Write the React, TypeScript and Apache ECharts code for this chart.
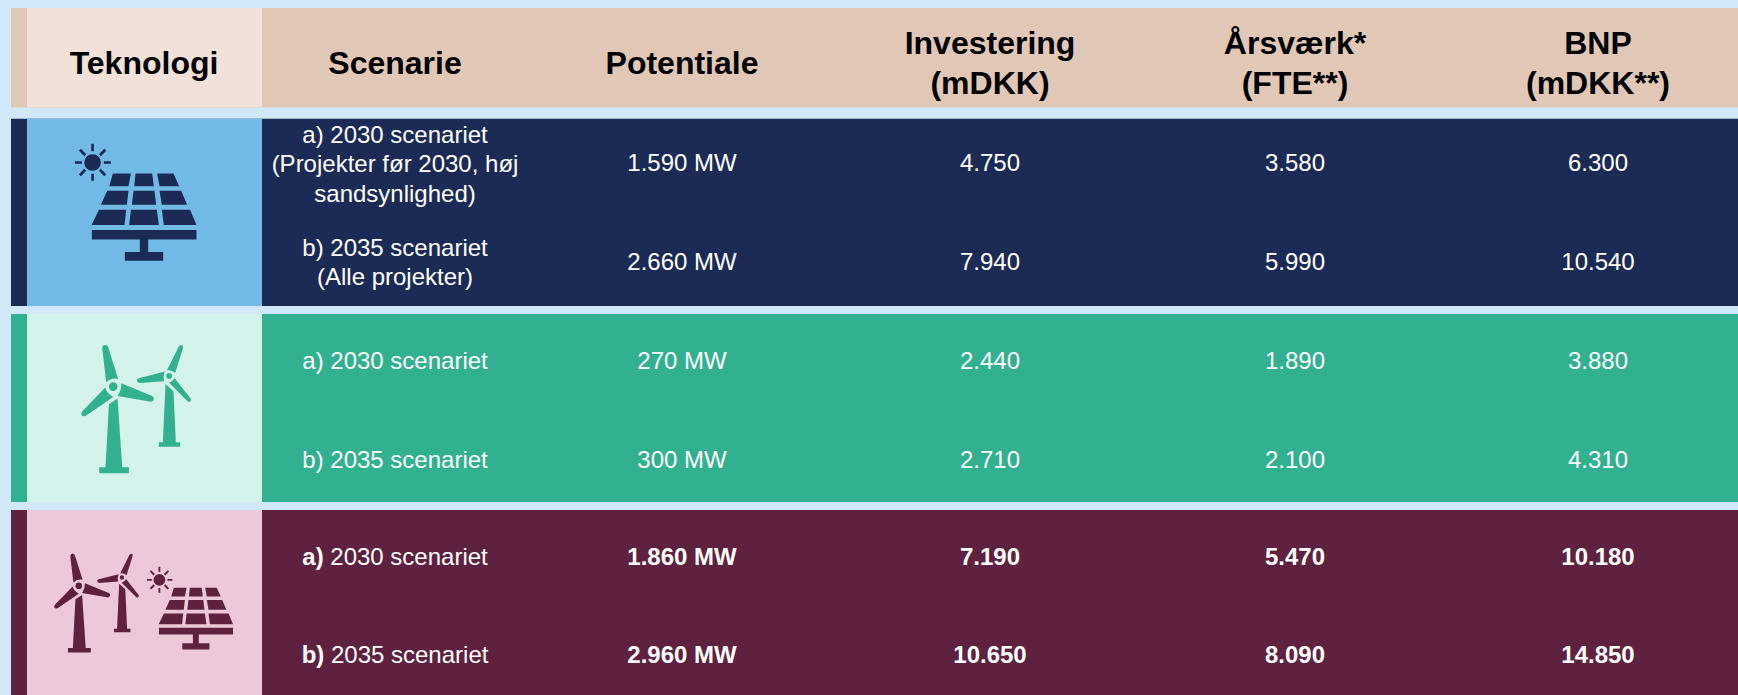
import React, { useEffect, useRef } from "react";
import * as echarts from "echarts";

// Table content
const headers = ["Teknologi", "Scenarie", "Potentiale", "Investering\n(mDKK)", "Årsværk*\n(FTE**)", "BNP\n(mDKK**)"];
const scenariosSolar = ["a) 2030 scenariet\n(Projekter før 2030, høj\nsandsynlighed)", "b) 2035 scenariet\n(Alle projekter)"];
const scenariosWind = ["a) 2030 scenariet", "b) 2035 scenariet"];
const scenariosCombined = ["a)|2030 scenariet", "b)|2035 scenariet"];
const potentialSolar = ["1.590 MW", "2.660 MW"];
const potentialWind = ["270 MW", "300 MW"];
const potentialCombined = ["1.860 MW", "2.960 MW"];
const investmentSolar = ["4.750", "7.940"];
const investmentWind = ["2.440", "2.710"];
const investmentCombined = ["7.190", "10.650"];
const fteSolar = ["3.580", "5.990"];
const fteWind = ["1.890", "2.100"];
const fteCombined = ["5.470", "8.090"];
const gdpSolar = ["6.300", "10.540"];
const gdpWind = ["3.880", "4.310"];
const gdpCombined = ["10.180", "14.850"];

// Layout
const W = 1738;
const H = 695;
const columnCentres = [144, 395, 682, 990, 1295, 1598];
const stripX = 11;
const techX = 27;
const techW = 235;
const FONT = '"Liberation Sans", Arial, sans-serif';

const disc = (cx: number, cy: number, r: number) =>
  `M${cx + r},${cy} A${r},${r} 0 1 1 ${cx - r},${cy} A${r},${r} 0 1 1 ${cx + r},${cy} Z`;

// Solar panel with a sun above its left corner
const SOLAR_PATH = [
  "M339,521 L393,521 L386,559 L328,559 Z",
  "M407,521 L457,521 L462,559 L403,559 Z",
  "M472,521 L521,521 L538,559 L479,559 Z",
  "M322,573 L386,573 L381,615 L303,615 Z",
  "M401,573 L464,573 L469,615 L396,615 Z",
  "M479,573 L544,573 L562,615 L486,615 Z",
  "M297,630 L379,630 L374,676 L275,676 Z",
  "M393,630 L471,630 L477,676 L388,676 Z",
  "M486,630 L571,630 L590,676 L492,676 Z",
  "M276,691 L590,691 L590,719 L445,719 L445,757 L490,757 L490,783 L375,783 L375,757 L420,757 L420,719 L276,719 Z",
  disc(278, 488, 25),
  "M274,432 L282,432 L282,454 L274,454 Z",
  "M274,522 L282,522 L282,543 L274,543 Z",
  "M225,484 L246,484 L246,492 L225,492 Z",
  "M312,484 L333,484 L333,492 L312,492 Z",
  "M237,453 L243,447 L259,463 L253,469 Z",
  "M313,447 L319,453 L303,469 L297,463 Z",
  "M243,529 L237,523 L253,507 L259,513 Z",
  "M319,523 L313,529 L297,513 L303,507 Z",
].join(" ");

// Pair of wind turbines
const TURBINE_PATH = [
  // large turbine
  disc(340, 260, 13),
  "M307,145 Q307,135 316,135 Q324,135 326,145 L355,237 Q335,232 319,247 Z",
  "M364,250 L457,288 Q464,292 461,300 Q458,307 449,305 L353,288 Q365,270 364,250 Z",
  "M316,263 Q321,281 340,291 L259,347 Q250,352 245,345 Q242,339 248,333 Z",
  "M327,313 L353,296 L367,502 L387,502 L387,520 L298,520 L298,502 L317,502 Z",
  // small turbine
  disc(508, 228, 8.5),
  "M537,140 Q543,134 548,137 Q551,141 549,146 L526,219 Q515,209 501,212 Z",
  "M495,215 Q489,231 493,244 L420,249 Q412,249 411,242 Q411,237 417,235 Z",
  "M524,234 Q519,245 507,248 L563,304 Q568,308 572,304 Q576,299 572,295 Z",
  "M497,252 L521,274 L528,427 L541,427 L541,441 L477,441 L477,427 L489,427 Z",
].join(" ");

echarts.graphic.registerShape("solarIcon", echarts.graphic.extendPath(SOLAR_PATH, {}));
echarts.graphic.registerShape("turbineIcon", echarts.graphic.extendPath(TURBINE_PATH, {}));

const rect = (x: number, y: number, width: number, height: number, fill: string) => ({
  type: "rect",
  shape: { x, y, width, height },
  style: { fill },
  silent: true,
});

const label = (text: string, x: number, y: number, fill: string, size: number, bold: boolean, lineHeight: number) => ({
  type: "text",
  x,
  y,
  silent: true,
  style: {
    text,
    fill,
    font: `${bold ? "bold " : ""}${size}px ${FONT}`,
    align: "center",
    verticalAlign: "middle",
    lineHeight,
  },
});

// "a)" in bold followed by the regular scenario name
const mixedLabel = (text: string, x: number, y: number, fill: string, size: number) => {
  const [lead, rest] = text.split("|");
  return {
    type: "text",
    x,
    y,
    silent: true,
    style: {
      text: `{b|${lead}}{n|\u00a0${rest}}`,
      fill,
      align: "center",
      verticalAlign: "middle",
      rich: {
        b: { font: `bold ${size}px ${FONT}`, fill },
        n: { font: `${size}px ${FONT}`, fill },
      },
    },
  };
};

const BODY_SIZE = 24;
const LINE = 29.5;

function buildRow(
  top: number,
  height: number,
  dark: string,
  light: string,
  scenarioY: number[],
  valueY: number[],
  scenarios: string[],
  cols: string[][],
  bold: boolean,
) {
  const items: any[] = [
    rect(stripX, top, W - stripX, height, dark),
    rect(techX, top, techW, height, light),
  ];
  scenarioY.forEach((y, i) => {
    items.push(
      bold
        ? mixedLabel(scenarios[i], columnCentres[1], y, "#ffffff", BODY_SIZE)
        : label(scenarios[i], columnCentres[1], y, "#ffffff", BODY_SIZE, false, LINE),
    );
    cols.forEach((col, c) => {
      items.push(label(col[i], columnCentres[c + 2], valueY[i], "#ffffff", BODY_SIZE, bold, LINE));
    });
  });
  return items;
}

export default function App() {
  const ref = useRef<HTMLDivElement>(null);

  useEffect(() => {
    const chart = echarts.init(ref.current!, undefined, { renderer: "svg" });
    const elements: any[] = [
      rect(stripX, 8, W - stripX, 99.4, "#E1C8B6"),
      rect(techX, 8, techW, 99.4, "#F0E2D8"),
      ...headers.map((h, i) => label(h, columnCentres[i], 63, "#000000", 32, true, 40)),
      ...buildRow(118.7, 187.3, "#1C2B55", "#70BAE5", [163.5, 262], [162, 261], scenariosSolar,
        [potentialSolar, investmentSolar, fteSolar, gdpSolar], false),
      ...buildRow(314, 188, "#31B18F", "#D3F3EA", [360, 459], [360, 459], scenariosWind,
        [potentialWind, investmentWind, fteWind, gdpWind], false),
      ...buildRow(510, 185, "#5E2240", "#ECC8DA", [556, 654], [556, 654], scenariosCombined,
        [potentialCombined, investmentCombined, fteCombined, gdpCombined], true),
      { type: "solarIcon", x: 0, y: 0, scaleX: 1 / 3, scaleY: 1 / 3, silent: true, style: { fill: "#1C2B55" } },
      { type: "turbineIcon", x: 0, y: 300, scaleX: 1 / 3, scaleY: 1 / 3, silent: true, style: { fill: "#31B18F" } },
      { type: "turbineIcon", x: -8.6, y: 518.9, scaleX: 0.77 / 3, scaleY: 0.77 / 3, silent: true, style: { fill: "#5E2240" } },
      { type: "solarIcon", x: 93.8, y: 464.7, scaleX: 0.709 / 3, scaleY: 0.709 / 3, silent: true, style: { fill: "#5E2240" } },
    ];
    chart.setOption({
      animation: false,
      backgroundColor: "#D0E8F7",
      graphic: { elements },
    });
    return () => chart.dispose();
  }, []);

  return <div ref={ref} style={{ position: "absolute", left: 0, top: 0, width: W, height: H }} />;
}
